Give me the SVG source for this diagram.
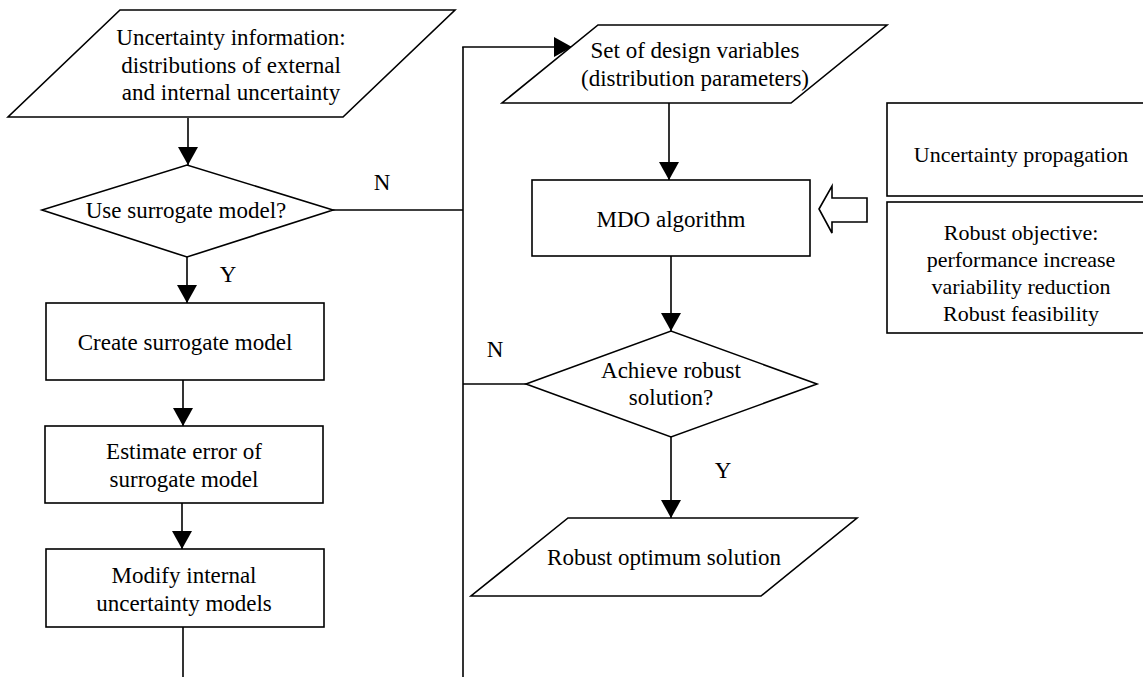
<svg xmlns="http://www.w3.org/2000/svg" width="1143" height="677" viewBox="0 0 1143 677" font-family="'Liberation Serif', 'Times New Roman', Tinos, 'DejaVu Serif', serif">
<style>
.s{fill:#fff;stroke:#000;stroke-width:1.6;stroke-linejoin:miter}
.c{fill:none;stroke:#000;stroke-width:1.6}
text{font-family:'Liberation Serif','Times New Roman',Tinos,'DejaVu Serif',serif;font-size:23px;fill:#000;text-anchor:middle}
.r text{font-size:22px}
</style>
<defs>
<marker id="ah" markerUnits="userSpaceOnUse" markerWidth="20" markerHeight="22" refX="18" refY="10" orient="auto">
<path d="M0,0 L18,10 L0,20 Z" fill="#000"/>
</marker>
</defs>
<rect width="1143" height="677" fill="#fff"/>
<g id="connectors">
<line class="c" x1="188" y1="118" x2="188" y2="165" marker-end="url(#ah)"/>
<line class="c" x1="333" y1="210" x2="463" y2="210"/>
<line class="c" x1="463" y1="47" x2="463" y2="677"/>
<line class="c" x1="462.2" y1="47" x2="572" y2="47" marker-end="url(#ah)"/>
<line class="c" x1="669" y1="103" x2="669" y2="180" marker-end="url(#ah)"/>
<line class="c" x1="671" y1="256" x2="671" y2="331" marker-end="url(#ah)"/>
<line class="c" x1="526" y1="384" x2="463" y2="384"/>
<line class="c" x1="671" y1="437" x2="671" y2="518" marker-end="url(#ah)"/>
<line class="c" x1="187" y1="257" x2="187" y2="303" marker-end="url(#ah)"/>
<line class="c" x1="183" y1="380" x2="183" y2="426" marker-end="url(#ah)"/>
<line class="c" x1="182" y1="503" x2="182" y2="549" marker-end="url(#ah)"/>
<line class="c" x1="183" y1="627" x2="183" y2="677"/>
<polygon class="s" points="819,209 832,186 832,198 867,198 867,222 832,222 832,233"/>
<text x="382" y="190">N</text>
<text x="228" y="282">Y</text>
<text x="495" y="357">N</text>
<text x="723" y="478">Y</text>
</g>
<g id="uncertainty-info">
<polygon class="s" points="120,10 455,10 343,117 8,117"/>
<text x="231" y="45">Uncertainty information:</text>
<text x="231" y="73">distributions of external</text>
<text x="231" y="100">and internal uncertainty</text>
</g>
<g id="use-surrogate">
<polygon class="s" points="42,210 187,165 333,210 187,257"/>
<text x="186" y="218">Use surrogate model?</text>
</g>
<g id="create-surrogate">
<rect class="s" x="46" y="303" width="278" height="77"/>
<text x="185" y="350">Create surrogate model</text>
</g>
<g id="estimate-error">
<rect class="s" x="45" y="426" width="278" height="77"/>
<text x="184" y="459">Estimate error of</text>
<text x="184" y="487">surrogate model</text>
</g>
<g id="modify-models">
<rect class="s" x="46" y="549" width="278" height="78"/>
<text x="184" y="583">Modify internal</text>
<text x="184" y="611">uncertainty models</text>
</g>
<g id="design-variables">
<polygon class="s" points="598,25 887,25 791,103 502,103"/>
<text x="695" y="58">Set of design variables</text>
<text x="695" y="86">(distribution parameters)</text>
</g>
<g id="mdo-algorithm">
<rect class="s" x="532" y="180" width="278" height="76"/>
<text x="671" y="227">MDO algorithm</text>
</g>
<g id="achieve-robust">
<polygon class="s" points="526,384 671,331 817,384 671,437"/>
<text x="671" y="378">Achieve robust</text>
<text x="671" y="405">solution?</text>
</g>
<g id="robust-optimum">
<polygon class="s" points="568,518 857,518 761,596 471,596"/>
<text x="664" y="565">Robust optimum solution</text>
</g>
<g id="uncertainty-propagation" class="r">
<rect class="s" x="887" y="103" width="280" height="93"/>
<text x="1021" y="162">Uncertainty propagation</text>
</g>
<g id="robust-objective" class="r">
<rect class="s" x="887" y="202" width="280" height="131"/>
<text x="1021" y="240">Robust objective:</text>
<text x="1021" y="267">performance increase</text>
<text x="1021" y="294">variability reduction</text>
<text x="1021" y="321">Robust feasibility</text>
</g>
</svg>
